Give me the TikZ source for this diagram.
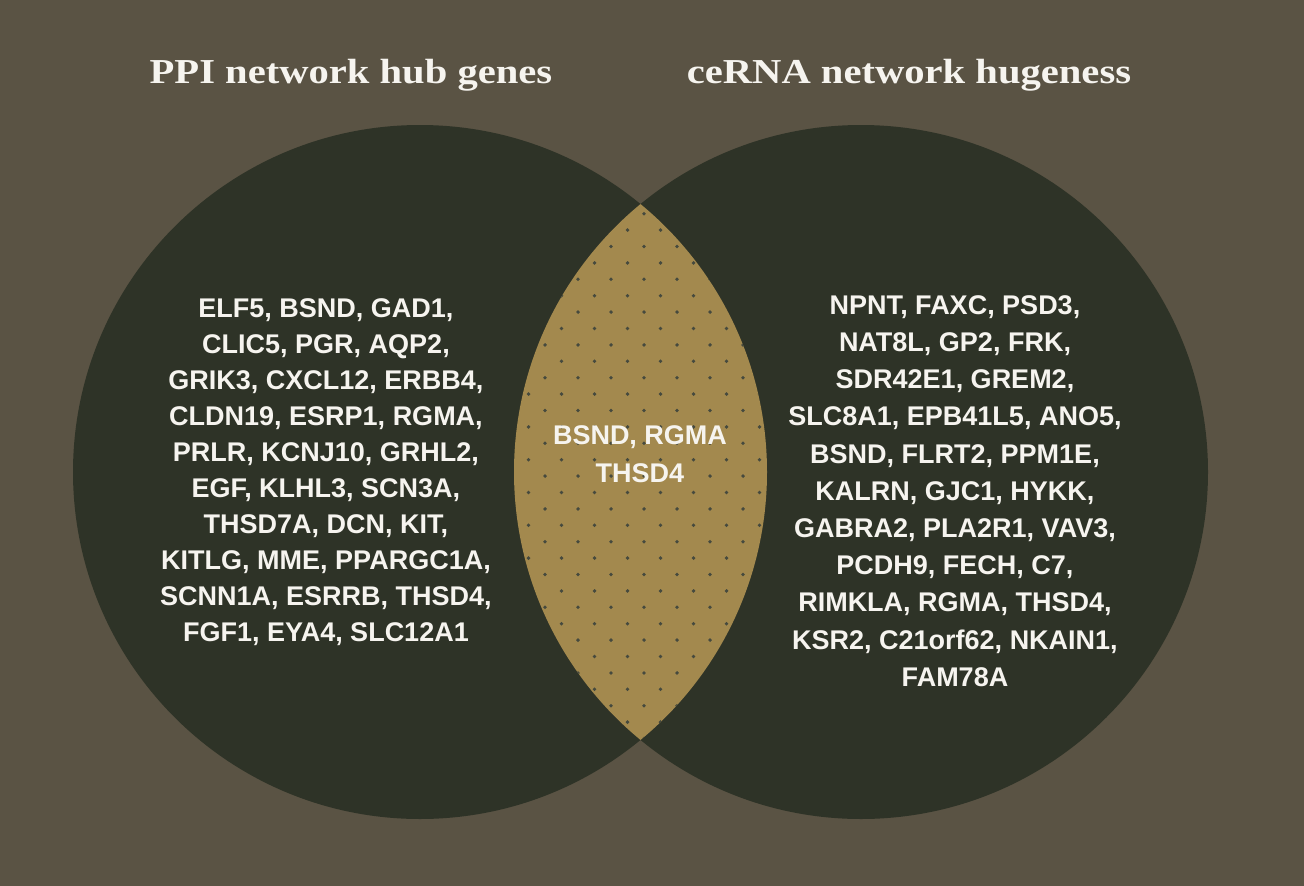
\documentclass[tikz,border=0pt]{standalone}
\usepackage{fontspec}
\setmainfont{Liberation Sans}
\newfontfamily\titlefont[FakeStretch=1.16]{Liberation Serif}
\definecolor{bgcol}{HTML}{5A5344}
\definecolor{circcol}{HTML}{2E3327}
\definecolor{lenscol}{HTML}{A3894E}
\definecolor{dotcol}{HTML}{464A3E}
\definecolor{txtcol}{HTML}{F6F4EF}
\tikzstyle{genes}=[text=txtcol, align=center, inner sep=0pt]
\tikzstyle{heading}=[text=txtcol, anchor=base, inner sep=0pt, font=\titlefont\bfseries\fontsize{35}{40}\selectfont]

\begin{document}
\begin{tikzpicture}[x=1pt,y=-1pt]
\useasboundingbox (0,0) rectangle (1304,886);
\fill[bgcol] (0,0) rectangle (1304,886);
\fill[circcol] (420,472) circle [radius=347pt];
\fill[circcol] (861,472) circle [radius=347pt];
\begin{scope}
\clip (420,472) circle [radius=347pt];
\clip (861,472) circle [radius=347pt];
\fill[lenscol] (500,190) rectangle (780,760);
\foreach \j in {0,...,32}
  \foreach \i in {-8,...,8}
    {\ifodd\numexpr\i+\j\relax\else\fill[dotcol] (644+16.5*\i,213.7+16.4*\j) circle [radius=1.9pt];\fi}
\end{scope}
\node[heading] (ppititle) at (351,83) {PPI network hub genes};
\node[heading] (cernatitle) at (909,83) {ceRNA network hugeness};
\node[genes, font=\bfseries\fontsize{27}{36}\selectfont] (ppi) at (326,472) {ELF5, BSND, GAD1,\\ CLIC5, PGR, AQP2,\\ GRIK3, CXCL12, ERBB4,\\ CLDN19, ESRP1, RGMA,\\ PRLR, KCNJ10, GRHL2,\\ EGF, KLHL3, SCN3A,\\ THSD7A, DCN, KIT,\\ KITLG, MME, PPARGC1A,\\ SCNN1A, ESRRB, THSD4,\\ FGF1, EYA4, SLC12A1};
\node[genes, font=\bfseries\fontsize{27}{37.2}\selectfont] (cerna) at (955,491) {NPNT, FAXC, PSD3,\\ NAT8L, GP2, FRK,\\ SDR42E1, GREM2,\\ SLC8A1, EPB41L5, ANO5,\\ BSND, FLRT2, PPM1E,\\ KALRN, GJC1, HYKK,\\ GABRA2, PLA2R1, VAV3,\\ PCDH9, FECH, C7,\\ RIMKLA, RGMA, THSD4,\\ KSR2, C21orf62, NKAIN1,\\ FAM78A};
\node[genes, font=\bfseries\fontsize{27}{38}\selectfont] (shared) at (640,454) {BSND, RGMA\\ THSD4};
\end{tikzpicture}
\end{document}
